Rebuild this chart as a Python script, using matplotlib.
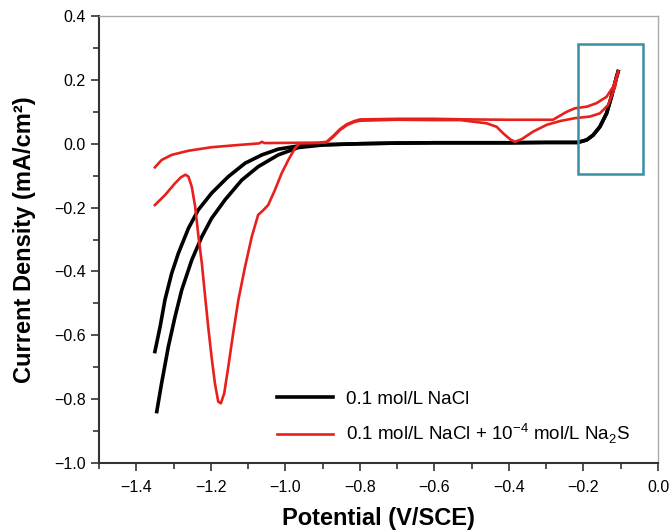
import numpy as np
import matplotlib.pyplot as plt
from matplotlib.patches import Rectangle
from matplotlib.ticker import MultipleLocator

plt.rcParams['font.family'] = ['Liberation Sans', 'DejaVu Sans']
plt.rcParams['mathtext.fontset'] = 'custom'
plt.rcParams['mathtext.rm'] = 'Liberation Sans'

# 0.1 mol/L NaCl, two sweeps
nacl_a_x = [-1.345, -1.332, -1.314, -1.296, -1.278, -1.251, -1.224, -1.198, -1.162, -1.117,
            -1.073, -1.019, -0.965, -0.9, -0.8, -0.7, -0.6, -0.5, -0.4, -0.3, -0.215,
            -0.191, -0.174, -0.156, -0.138, -0.125, -0.111, -0.107]
nacl_a_y = [-0.839, -0.750, -0.636, -0.542, -0.458, -0.364, -0.291, -0.234, -0.176, -0.114,
            -0.072, -0.035, -0.012, -0.004, 0.0, 0.002, 0.003, 0.003, 0.003, 0.004, 0.004,
            0.012, 0.027, 0.053, 0.095, 0.147, 0.210, 0.226]
nacl_b_x = [-1.350, -1.336, -1.323, -1.305, -1.287, -1.260, -1.234, -1.198, -1.153, -1.108,
            -1.063, -1.019, -0.965, -0.9, -0.8, -0.7, -0.6, -0.5, -0.4, -0.3, -0.215,
            -0.191, -0.174, -0.156, -0.138, -0.125, -0.111, -0.107]
nacl_b_y = [-0.651, -0.573, -0.489, -0.406, -0.343, -0.265, -0.208, -0.155, -0.103, -0.061,
            -0.035, -0.017, -0.007, -0.003, 0.0, 0.002, 0.003, 0.003, 0.003, 0.004, 0.004,
            0.012, 0.027, 0.053, 0.095, 0.147, 0.210, 0.226]

# 0.1 mol/L NaCl + 1e-4 mol/L Na2S: sweep with the reduction peak, and the return sweep
na2s_c_x = [-1.350, -1.323, -1.296, -1.280, -1.268, -1.260, -1.251, -1.242, -1.234, -1.224,
            -1.216, -1.207, -1.198, -1.189, -1.180, -1.173, -1.164, -1.153, -1.140, -1.126,
            -1.108, -1.090, -1.073, -1.059, -1.046, -1.028, -1.010, -0.992, -0.974, -0.961,
            -0.92, -0.889, -0.871, -0.853, -0.835, -0.815, -0.8, -0.7, -0.6, -0.531, -0.460,
            -0.433, -0.415, -0.397, -0.384, -0.366, -0.335, -0.299, -0.263, -0.223, -0.183,
            -0.156, -0.134, -0.115, -0.107]
na2s_c_y = [-0.192, -0.161, -0.124, -0.105, -0.097, -0.103, -0.135, -0.197, -0.281, -0.375,
            -0.469, -0.573, -0.667, -0.750, -0.808, -0.813, -0.782, -0.698, -0.594, -0.489,
            -0.385, -0.291, -0.223, -0.208, -0.192, -0.145, -0.093, -0.051, -0.014, 0.001,
            0.002, 0.004, 0.022, 0.043, 0.058, 0.068, 0.072, 0.075, 0.074, 0.074, 0.064,
            0.053, 0.032, 0.014, 0.006, 0.014, 0.038, 0.059, 0.071, 0.080, 0.085,
            0.095, 0.121, 0.179, 0.226]
na2s_r_x = [-1.350, -1.332, -1.305, -1.260, -1.198, -1.126, -1.070, -1.063, -1.056, -0.965,
            -0.91, -0.889, -0.871, -0.853, -0.835, -0.815, -0.8, -0.7, -0.6, -0.5, -0.4,
            -0.282, -0.245, -0.223, -0.191, -0.165, -0.138, -0.120, -0.107]
na2s_r_y = [-0.074, -0.051, -0.035, -0.022, -0.011, -0.004, 0.001, 0.006, 0.002, 0.003,
            0.003, 0.006, 0.025, 0.046, 0.061, 0.071, 0.076, 0.078, 0.078, 0.076, 0.075,
            0.075, 0.100, 0.111, 0.116, 0.127, 0.147, 0.179, 0.226]

labels = ['0.1 mol/L NaCl',
          '0.1 mol/L NaCl + 10$^{\\mathregular{-4}}$ mol/L Na$_{\\mathregular{2}}$S']

fig = plt.figure(figsize=(6.7, 5.31), dpi=100)
ax = fig.add_axes([99 / 670, 1 - 463 / 531, 559 / 670, 447 / 531])

red = '#e8201c'
ax.plot(nacl_a_x, nacl_a_y, color='black', lw=2.6, label=labels[0])
ax.plot(nacl_b_x, nacl_b_y, color='black', lw=2.6)
ax.plot(na2s_c_x, na2s_c_y, color=red, lw=1.9, label=labels[1])
ax.plot(na2s_r_x, na2s_r_y, color=red, lw=1.9)

ax.add_patch(Rectangle((-0.215, -0.094), 0.175, 0.406, fill=False,
                       edgecolor='#3a8ea3', lw=1.8, zorder=5))

ax.set_xlim(-1.5, 0.0)
ax.set_ylim(-1.0, 0.4)
ax.xaxis.set_major_locator(MultipleLocator(0.2))
ax.xaxis.set_minor_locator(MultipleLocator(0.1))
ax.yaxis.set_major_locator(MultipleLocator(0.2))
ax.yaxis.set_minor_locator(MultipleLocator(0.1))
ax.xaxis.set_major_formatter(plt.FuncFormatter(lambda v, p: f'{v:.1f}'.replace('-', '\u2212')))
ax.yaxis.set_major_formatter(plt.FuncFormatter(lambda v, p: f'{v:.1f}'.replace('-', '\u2212')))
ax.tick_params(which='major', direction='out', length=6, width=1.2, labelsize=11.5, color='#333333')
ax.tick_params(which='minor', direction='out', length=4, width=1.2, color='#333333')
ax.tick_params(axis='x', pad=6)

for s in ['left', 'bottom']:
    ax.spines[s].set_color('#333333')
    ax.spines[s].set_linewidth(1.5)
for s in ['top', 'right']:
    ax.spines[s].set_color('#aaaaaa')
    ax.spines[s].set_linewidth(1.0)

ax.set_xlabel('Potential (V/SCE)', fontsize=17, fontweight='bold', labelpad=9)
ax.set_ylabel('Current Density (mA/cm\u00b2)', fontsize=17, fontweight='bold', labelpad=13)

ax.legend(loc='center left', bbox_to_anchor=(0.288, 0.1), frameon=False, fontsize=13.5,
          handlelength=3.0, handletextpad=0.7, labelspacing=0.75)

fig.savefig('out.png', dpi=100)
